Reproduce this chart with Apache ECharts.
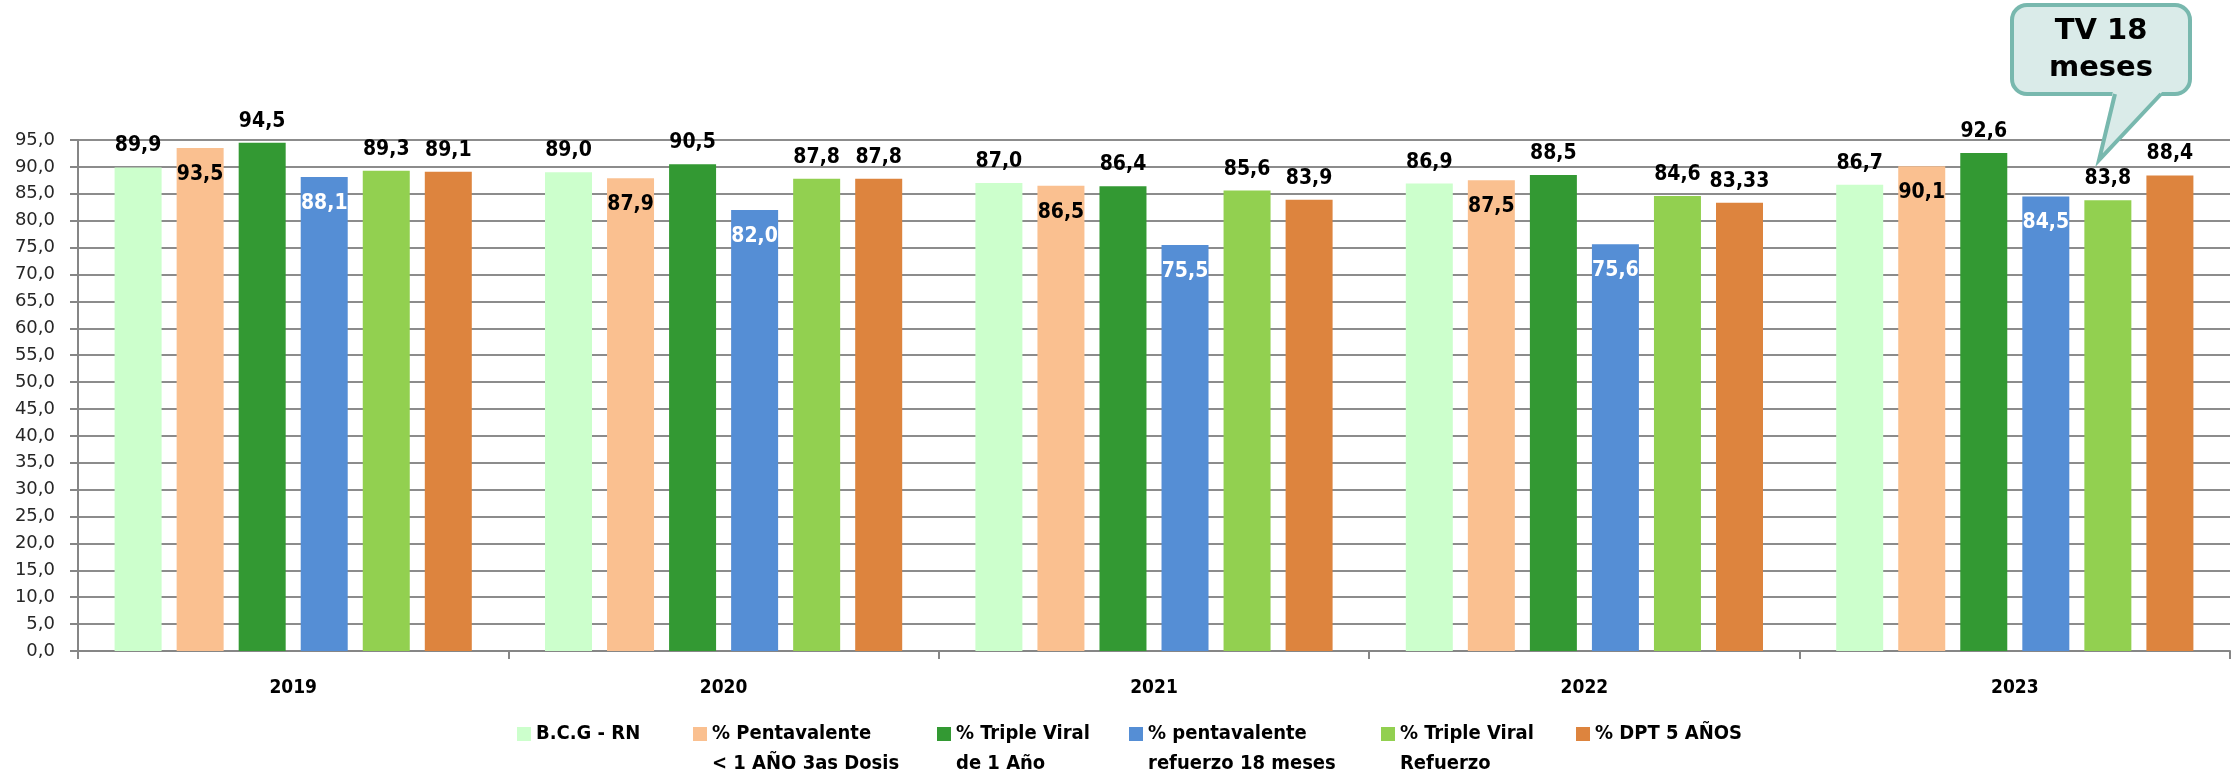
<!DOCTYPE html>
<html>
<head>
<meta charset="utf-8">
<title>Coberturas de vacunación 2019-2023</title>
<script src="https://cdn.jsdelivr.net/npm/echarts@6/dist/echarts.min.js"></script>
<style>
  html, body { margin: 0; padding: 0; background: #fff; }
  #chart { width: 2234px; height: 774px; }
</style>
</head>
<body>
<div id="chart"></div>
<script>
const years = ['2019', '2020', '2021', '2022', '2023'];

const seriesNames = [
  'B.C.G - RN',
  '% Pentavalente\n< 1 AÑO 3as Dosis',
  '% Triple Viral\nde 1 Año',
  '% pentavalente\nrefuerzo 18 meses',
  '% Triple Viral\nRefuerzo',
  '% DPT 5 AÑOS'
];

const bcg = [89.9, 89.0, 87.0, 86.9, 86.7];
const pentavalente = [93.5, 87.9, 86.5, 87.5, 90.1];
const tripleViral = [94.5, 90.5, 86.4, 88.5, 92.6];
const pentaRefuerzo = [88.1, 82.0, 75.5, 75.6, 84.5];
const tvRefuerzo = [89.3, 87.8, 85.6, 84.6, 83.8];
const dpt = [89.1, 87.8, 83.9, 83.33, 88.4];

const colors = ['#CCFFCC', '#FAC090', '#339933', '#558ED5', '#92D050', '#DD843E'];
// left edge of each legend entry (Excel spaced them unevenly)
const legendLeft = [517, 693, 937, 1129, 1381, 1576];

const narrow = '"Liberation Sans Narrow", "DejaVu Sans Condensed", sans-serif';

const fmt = v => {
  const s = String(v);
  return (s.includes('.') ? s : v.toFixed(1)).replace('.', ',');
};

const makeSeries = (idx, data, pos, color) => ({
  name: seriesNames[idx],
  type: 'bar',
  data: data,
  barWidth: 47,
  barGap: '32%',
  itemStyle: { color: colors[idx] },
  label: {
    show: true,
    position: pos,
    distance: pos === 'top' ? 11 : 16,
    color: color,
    fontFamily: narrow,
    fontSize: 21,
    fontWeight: 'bold',
    formatter: p => fmt(p.value)
  }
});

// one legend per entry so each can sit where the original put it
const legends = seriesNames.map((name, i) => ({
  data: [name],
  left: legendLeft[i],
  top: 689,
  padding: 0,
  itemWidth: 14,
  itemHeight: 14,
  icon: 'rect',
  // blank first line keeps the swatch level with the first text line
  formatter: n => ' \n' + n + (n.includes('\n') ? '' : '\n '),
  textStyle: {
    fontFamily: narrow,
    fontSize: 20,
    fontWeight: 'bold',
    color: '#000',
    lineHeight: 30
  }
}));

const chart = echarts.init(document.getElementById('chart'));

// callout bubble
const calloutFill = '#DAEBE9';
const calloutStroke = '#78B8AE';

chart.setOption({
  animation: false,
  backgroundColor: '#ffffff',
  grid: { left: 78, right: 4, top: 140, bottom: 123 },
  legend: legends,
  xAxis: {
    type: 'category',
    data: years,
    axisLine: { lineStyle: { color: '#868686', width: 2 } },
    axisTick: { show: true, length: 8, lineStyle: { color: '#868686', width: 2 } },
    axisLabel: {
      margin: 28,
      fontFamily: narrow,
      fontSize: 19,
      fontWeight: 'bold',
      color: '#000'
    }
  },
  yAxis: {
    type: 'value',
    min: 0,
    max: 95,
    interval: 5,
    axisLine: { show: true, lineStyle: { color: '#868686', width: 2 } },
    axisTick: { show: true, length: 8, lineStyle: { color: '#868686', width: 2 } },
    splitLine: { lineStyle: { color: '#8c8c8c', width: 2 } },
    axisLabel: {
      margin: 23,
      fontFamily: '"DejaVu Sans", sans-serif',
      fontSize: 18,
      color: '#262626',
      formatter: v => v.toFixed(1).replace('.', ',')
    }
  },
  series: [
    makeSeries(0, bcg, 'top', '#000'),
    makeSeries(1, pentavalente, 'insideTop', '#000'),
    makeSeries(2, tripleViral, 'top', '#000'),
    makeSeries(3, pentaRefuerzo, 'insideTop', '#fff'),
    makeSeries(4, tvRefuerzo, 'top', '#000'),
    makeSeries(5, dpt, 'top', '#000')
  ],
  graphic: [
    {
      type: 'rect',
      shape: { x: 2012, y: 5, width: 178, height: 89, r: 15 },
      style: { fill: calloutFill, stroke: calloutStroke, lineWidth: 4 },
      z: 100
    },
    {
      type: 'polygon',
      shape: { points: [[2113, 91], [2163, 91], [2099, 160]] },
      style: { fill: calloutFill },
      z: 101
    },
    {
      type: 'polyline',
      shape: { points: [[2115, 94], [2099, 160], [2161, 94]] },
      style: { fill: null, stroke: calloutStroke, lineWidth: 4, lineJoin: 'miter' },
      z: 102
    },
    {
      type: 'text',
      x: 2101,
      y: 50,
      z: 103,
      style: {
        text: 'TV 18\nmeses',
        align: 'center',
        verticalAlign: 'middle',
        fontFamily: '"DejaVu Sans", sans-serif',
        fontWeight: 'bold',
        fontSize: 29,
        lineHeight: 37,
        fill: '#000'
      }
    }
  ]
});

window.addEventListener('resize', () => chart.resize());
</script>
</body>
</html>
